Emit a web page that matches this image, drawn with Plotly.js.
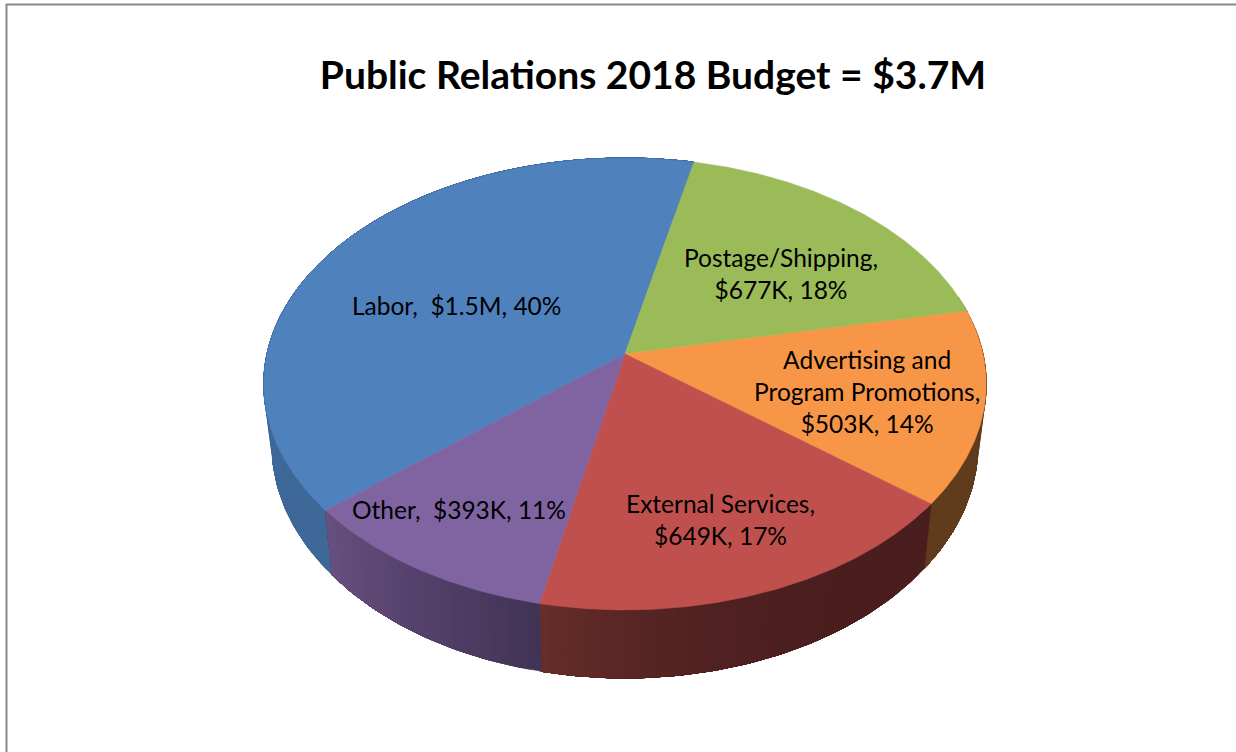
<!DOCTYPE html>
<html>
<head>
<meta charset="utf-8">
<script src="https://cdn.plot.ly/plotly-3.0.1.min.js"></script>
<style>html,body{margin:0;padding:0;background:#fff}#chart{width:1236px;height:752px}svg text{font-variant-ligatures:none}</style>
</head>
<body>
<div id="chart"></div>
<script>
// Data
var categories = ['Labor', 'Postage/Shipping', 'Advertising and Program Promotions', 'External Services', 'Other'];
var values = [1500, 677, 503, 649, 393];
var labelLines = [
  ['Labor,\u00A0 $1.5M, 40%'],
  ['Postage/Shipping,', '$677K, 18%'],
  ['Advertising and', 'Program Promotions,', '$503K, 14%'],
  ['External Services,', '$649K, 17%'],
  ['Other,\u00A0 $393K, 11%']
];
var chartTitle = 'Public Relations 2018 Budget = $3.7M';

// Styles
var topColors = ['#4F81BD', '#9BBB59', '#F79646', '#C0504D', '#8064A2'];
var wallFrom = [[62,104,152], [96,117,52], [96,60,28], [74,30,30], [66,52,86]];
var wallTo   = [[62,104,152], [96,117,52], [96,60,28], [104,46,42], [104,80,128]];
var wallCurve = [1, 1, 1, 3, 1];
var labelX = [456, 781, 867, 720, 459];
var labelY = [305, 273, 391, 519.5, 509];

// Perspective projection of the pie disc onto the page
var cx = 625, cy = 354, halfW = 358, persp = -0.1327, depth = 175, startDeg = 228.6;
var wallDy = 60.3, wallSx = 0.977, wallSy = 1.03;
function rim(deg) {
  var r0 = deg * Math.PI / 180;
  // small view-angle correction of the apparent slice boundaries
  var r = r0 + (0.15 - 1.2 * Math.cos(r0) - 0.5 * Math.sin(r0)) * Math.PI / 180;
  var u = Math.sin(r), v = -Math.cos(r), w = 1 + persp * v;
  return [cx + halfW * u / w, (cy + depth * v) / w];
}
function lowerRim(deg) {
  var p = rim(deg);
  return [cx + wallSx * (p[0] - cx), cy + wallDy + wallSy * (p[1] - cy)];
}
function mix(a, b, f) {
  return 'rgb(' + a.map(function (c, i) { return Math.round(c + (b[i] - c) * f); }).join(',') + ')';
}
function poly(xs, ys, color, name) {
  return {type: 'scatter', mode: 'lines', x: xs, y: ys, fill: 'toself', fillcolor: color,
          line: {color: color, width: 0.6}, hoverinfo: 'skip', showlegend: false, name: name};
}

var total = values.reduce(function (a, b) { return a + b; }, 0);
var walls = [], tops = [], angle = startDeg;
values.forEach(function (val, i) {
  var sweep = val / total * 360, end = angle + sweep, a, d;
  // side wall: each band runs to the slice end and the next one paints over it
  for (a = angle; a < end - 0.01; a += 1.5) {
    var mid = (a + 0.75) % 360;
    if (mid > 75 && mid < 285) {
      var wx = [], wy = [], pt;
      for (d = a; d < end; d += 1) { pt = rim(d); wx.push(pt[0]); wy.push(pt[1]); }
      pt = rim(end); wx.push(pt[0]); wy.push(pt[1]);
      pt = lowerRim(end); wx.push(pt[0]); wy.push(pt[1]);
      for (d = end - 1; d > a; d -= 1) { pt = lowerRim(d); wx.push(pt[0]); wy.push(pt[1]); }
      pt = lowerRim(a); wx.push(pt[0], wx[0]); wy.push(pt[1], wy[0]);
      walls.push(poly(wx, wy, mix(wallFrom[i], wallTo[i], Math.pow((a - angle) / sweep, wallCurve[i])), categories[i] + ' side'));
    }
  }
  // top face
  var xs = [cx], ys = [cy];
  for (a = angle; a < end; a += 0.5) { var p = rim(a); xs.push(p[0]); ys.push(p[1]); }
  var pe = rim(end); xs.push(pe[0], cx); ys.push(pe[1], cy);
  tops.push(poly(xs, ys, topColors[i], categories[i]));
  angle = end;
});

var annotations = labelLines.map(function (lines, i) {
  return {x: labelX[i], y: labelY[i], xref: 'x', yref: 'y', text: lines.join('<br>'), showarrow: false,
          align: 'center', xanchor: 'center', yanchor: 'middle',
          font: {family: 'Lato, sans-serif', size: 24.5, color: '#000'}};
});

var layout = {
  width: 1236, height: 752, margin: {l: 0, r: 0, t: 0, b: 0},
  paper_bgcolor: '#fff', plot_bgcolor: '#fff', showlegend: false, hovermode: false,
  title: {text: '<b>' + chartTitle + '</b>', x: 653 / 1236, y: 1 - 75 / 752, xanchor: 'center', yanchor: 'middle',
          font: {family: 'Lato, sans-serif', size: 39, color: '#000'}},
  xaxis: {range: [0, 1236], visible: false, fixedrange: true},
  yaxis: {range: [752, 0], visible: false, fixedrange: true},
  shapes: [{type: 'path', path: 'M 6.5 752 L 6.5 4.5 L 1236 4.5', xref: 'x', yref: 'y',
            line: {color: '#878787', width: 2}}],
  annotations: annotations
};
Plotly.newPlot('chart', walls.concat(tops), layout, {displayModeBar: false, staticPlot: true});
</script>
</body>
</html>
